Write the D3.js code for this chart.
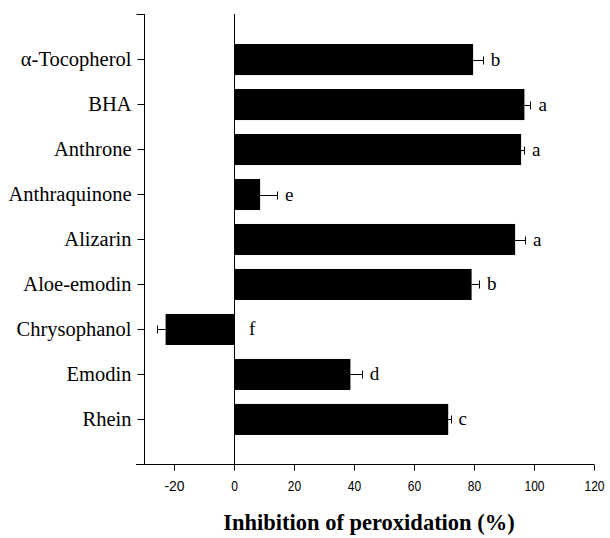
<!DOCTYPE html>
<html>
<head>
<meta charset="utf-8">
<script src="https://cdn.jsdelivr.net/npm/d3@7"></script>
<style>
  body { margin: 0; background: #fff; }
  .cat { font-family: "Liberation Serif", "Times New Roman", serif; font-size: 20.5px; }
  .letter { font-family: "Liberation Serif", "Times New Roman", serif; font-size: 19px; }
  .xtick text { font-family: "Liberation Sans", Arial, sans-serif; font-size: 15px; }
  .title { font-family: "Liberation Serif", "Times New Roman", serif; font-size: 22.5px; font-weight: bold; }
</style>
</head>
<body>
<div id="main"></div>
<script>
var ctx = {
    w: 610,
    h: 538,
    left: 144,
    right: 594,
    top: 15,
    bottom: 464
};

// compounds, top to bottom
var compounds = ["α-Tocopherol", "BHA", "Anthrone", "Anthraquinone", "Alizarin",
                 "Aloe-emodin", "Chrysophanol", "Emodin", "Rhein"];
// inhibition of peroxidation (%)
var inhibition = [79.7, 96.8, 95.7, 8.7, 93.7, 79.2, -22.8, 38.8, 71.4];
// error (SD)
var errors = [3.2, 2.0, 1.0, 5.6, 3.3, 2.5, 2.8, 3.8, 0.8];
// significance letters
var letters = ["b", "a", "a", "e", "a", "b", "f", "d", "c"];
var xTicks = [-20, 0, 20, 40, 60, 80, 100, 120];

var createViz = function(){
    var svg = d3.select("#main").append("svg")
        .attr("width", ctx.w)
        .attr("height", ctx.h);

    var x = d3.scaleLinear().domain([-30, 120]).range([ctx.left, ctx.right]);
    var y = d3.scaleBand().domain(compounds).range([ctx.top, ctx.bottom])
        .paddingInner(0.31).paddingOuter(0.645);

    var data = compounds.map(function(c, i){
        return {name: c, value: inhibition[i], err: errors[i], letter: letters[i]};
    });

    // bars
    svg.append("g").selectAll("rect")
    .data(data)
    .enter()
    .append("rect")
    .attr("x", function(d){ return x(Math.min(0, d.value)); })
    .attr("y", function(d){ return y(d.name); })
    .attr("width", function(d){ return Math.abs(x(d.value) - x(0)); })
    .attr("height", y.bandwidth())
    .attr("fill", "#000");

    // error bars (one side only, away from zero)
    var eb = svg.append("g").attr("stroke", "#000").attr("stroke-width", 1);
    data.forEach(function(d){
        var cy = Math.round(y(d.name) + y.bandwidth() / 2) + 0.5;
        var sign = d.value < 0 ? -1 : 1;
        var xe = Math.round(x(d.value + sign * d.err)) + 0.5;
        eb.append("line").attr("x1", x(d.value)).attr("x2", xe).attr("y1", cy).attr("y2", cy);
        eb.append("line").attr("x1", xe).attr("x2", xe).attr("y1", cy - 4).attr("y2", cy + 4);
    });

    // letters
    svg.append("g").selectAll("text")
    .data(data)
    .enter()
    .append("text")
    .attr("class", "letter")
    .attr("x", function(d){
        if (d.value < 0) return x(0) + 15;
        return x(d.value + d.err) + 8;
    })
    .attr("y", function(d){ return y(d.name) + y.bandwidth() / 2 + 6; })
    .text(function(d){ return d.letter; });

    // zero line
    svg.append("line")
    .attr("x1", x(0) + 0.5).attr("x2", x(0) + 0.5)
    .attr("y1", ctx.top - 1).attr("y2", ctx.bottom)
    .attr("stroke", "#000");

    // left axis
    var yAxis = d3.axisLeft(y).tickSize(7).tickPadding(6).tickSizeOuter(0);
    var gy = svg.append("g")
    .attr("transform", "translate(" + (ctx.left + 0.5) + ",0)")
    .call(yAxis);
    gy.select(".domain").attr("d", "M0," + (ctx.top - 1) + "V" + ctx.bottom);
    gy.selectAll("text").attr("class", "cat").attr("font-family", null).attr("font-size", null).attr("fill", "#000");
    gy.append("line").attr("x1", -8).attr("x2", 0).attr("y1", ctx.top - 0.5).attr("y2", ctx.top - 0.5).attr("stroke", "#000");

    // bottom axis
    var xAxis = d3.axisBottom(x).tickValues(xTicks).tickSize(6).tickPadding(10).tickSizeOuter(0)
        .tickFormat(function(d){ return String(d); });
    var gx = svg.append("g")
    .attr("class", "xtick")
    .attr("transform", "translate(0," + (ctx.bottom + 0.5) + ")")
    .call(xAxis);
    gx.select(".domain").attr("d", "M" + (ctx.left - 8) + ",0H" + ctx.right);
    gx.selectAll("text").attr("font-family", null).attr("font-size", null).attr("fill", "#000")
    .attr("textLength", function(d){ return String(d).length * 6.7; })
    .attr("lengthAdjust", "spacingAndGlyphs");

    svg.append("text")
    .attr("class", "title")
    .attr("x", (ctx.left + ctx.right) / 2)
    .attr("y", 530)
    .attr("text-anchor", "middle")
    .text("Inhibition of peroxidation (%)");
};

createViz();
</script>
</body>
</html>
